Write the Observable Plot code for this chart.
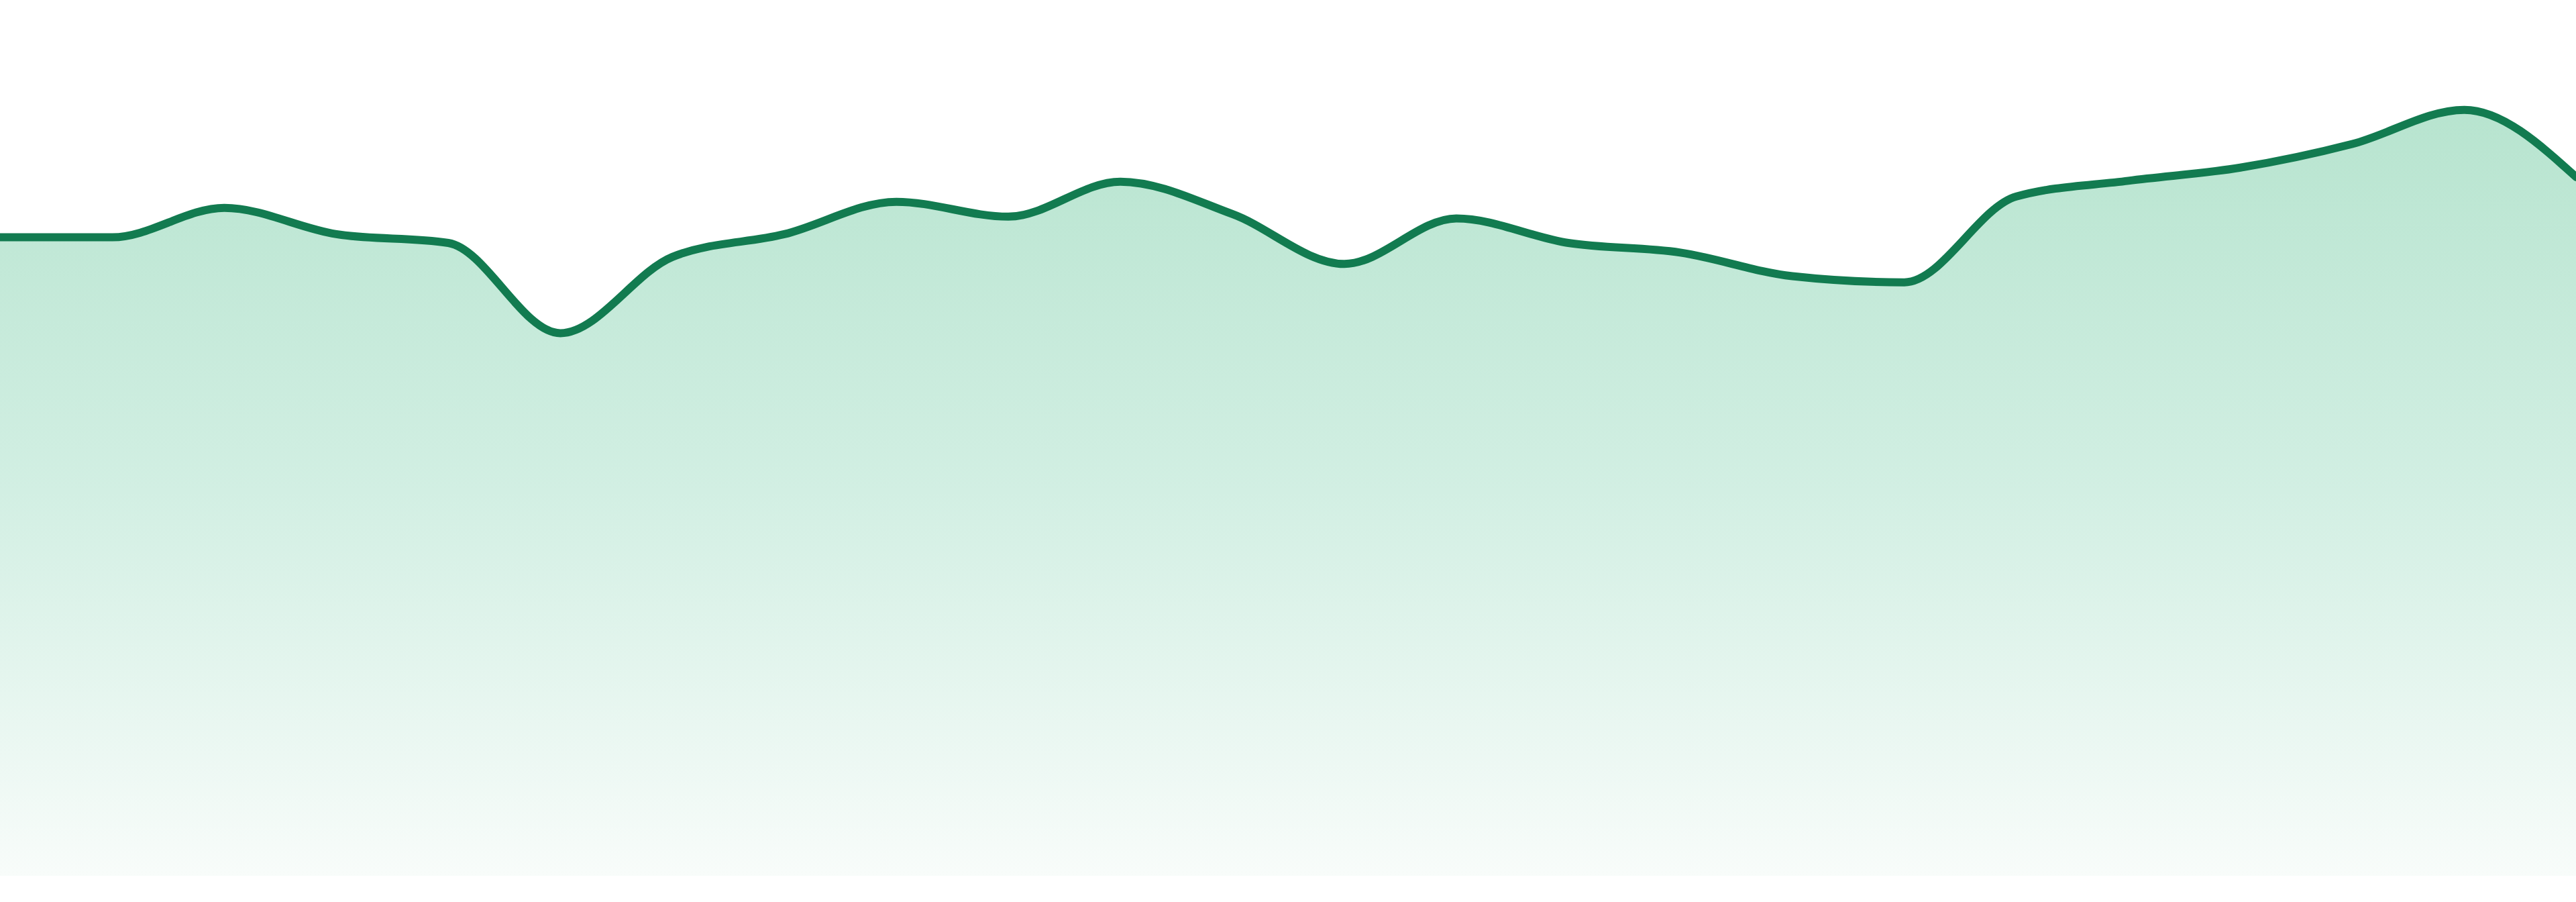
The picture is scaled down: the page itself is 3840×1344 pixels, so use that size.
<!DOCTYPE html>
<html>
<head>
<meta charset="utf-8">
<script src="https://cdn.jsdelivr.net/npm/d3@7"></script>
<script src="https://cdn.jsdelivr.net/npm/@observablehq/plot@0.6"></script>
<style>
  html, body { margin: 0; padding: 0; background: #ffffff; }
  #chart svg { display: block; }
</style>
</head>
<body>
<div id="chart"></div>
<script>
const steps = [0, 1, 2, 3, 4, 5, 6, 7, 8, 9, 10, 11, 12, 13, 14, 15, 16, 17, 18, 19, 20, 21, 22, 23];
const values = [72.95, 72.95, 76.3, 73.3, 72.3, 62.0, 70.7, 73.3, 77.0, 75.3, 79.3, 75.6,
                69.9, 75.1, 72.3, 71.2, 68.5, 67.8, 77.6, 79.4, 80.9, 83.6, 87.5, 79.8];
const lineColor = "#127b50";

const data = steps.map((s, i) => ({step: s, value: values[i]}));

const plot = Plot.plot({
  width: 3840,
  height: 1344,
  marginTop: 0,
  marginRight: 0,
  marginLeft: 0,
  marginBottom: 39,
  x: {domain: [0, 23], axis: null},
  y: {domain: [0, 100], axis: null},
  marks: [
    Plot.areaY(data, {x: "step", y: "value", curve: "monotone-x", fill: "url(#areaGrad)"}),
    Plot.lineY(data, {x: "step", y: "value", curve: "monotone-x", stroke: lineColor, strokeWidth: 12})
  ]
});

const svg = d3.select(plot);
const defs = svg.insert("defs", ":first-child");
const grad = defs.append("linearGradient")
  .attr("id", "areaGrad")
  .attr("gradientUnits", "userSpaceOnUse")
  .attr("x1", 0).attr("x2", 0)
  .attr("y1", 160).attr("y2", 1305);
grad.append("stop").attr("offset", 0).attr("stop-color", "#b7e4cf");
grad.append("stop").attr("offset", 0.5).attr("stop-color", "#d2efe3");
grad.append("stop").attr("offset", 1).attr("stop-color", "#f8fcfa");

document.getElementById("chart").appendChild(plot);
</script>
</body>
</html>
